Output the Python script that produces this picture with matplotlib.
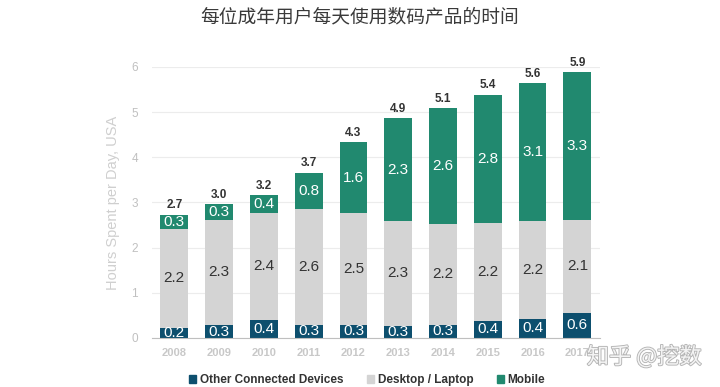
import matplotlib
matplotlib.use("Agg")
import matplotlib.pyplot as plt
from matplotlib.patches import Patch
import matplotlib.patheffects as pe

plt.rcParams['font.family'] = ['Liberation Sans', 'Noto Sans CJK SC', 'DejaVu Sans']

years = ['2008', '2009', '2010', '2011', '2012', '2013', '2014', '2015', '2016', '2017']
other = [0.22, 0.28, 0.40, 0.29, 0.29, 0.27, 0.29, 0.38, 0.42, 0.56]
desktop = [2.19, 2.34, 2.37, 2.56, 2.47, 2.32, 2.23, 2.16, 2.16, 2.06]
mobile = [0.31, 0.34, 0.39, 0.81, 1.57, 2.27, 2.56, 2.84, 3.06, 3.26]
series_names = ['Other Connected Devices', 'Desktop / Laptop', 'Mobile']
title = '每位成年用户每天使用数码产品的时间'
ylabel = 'Hours Spent per Day, USA'
watermark = '知乎 @挖数'

c_other = '#0d4f6e'
c_desk = '#d4d4d4'
c_mob = '#21896f'

fig = plt.figure(figsize=(7.2, 3.87), dpi=100)
ax = fig.add_axes([0.211, 0.127, 0.622, 0.700])

x = list(range(len(years)))
w = 0.62
ax.bar(x, other, w, color=c_other, zorder=3)
base2 = other
ax.bar(x, desktop, w, bottom=base2, color=c_desk, zorder=3)
base3 = [o + d for o, d in zip(other, desktop)]
ax.bar(x, mobile, w, bottom=base3, color=c_mob, zorder=3)

for i in x:
    ax.text(i, other[i] / 2, f"{other[i]:.1f}", ha='center', va='center',
            color='white', fontsize=11, zorder=4)
    ax.text(i, base2[i] + desktop[i] / 2, f"{desktop[i]:.1f}", ha='center', va='center',
            color='#333333', fontsize=11, zorder=4)
    ax.text(i, base3[i] + mobile[i] / 2, f"{mobile[i]:.1f}", ha='center', va='center',
            color='white', fontsize=11, zorder=4)
    tot = base3[i] + mobile[i]
    ax.text(i, tot + 0.08, f"{tot:.1f}", ha='center', va='bottom',
            color='#333333', fontsize=8.5, fontweight='bold', zorder=4)

ax.set_xlim(-0.5, 9.5)
ax.set_ylim(0, 6)
ax.set_yticks(range(7))
ax.set_xticks(x)
ax.set_xticklabels(years, color='#c8c8c8', fontsize=8, fontweight='bold')
ax.tick_params(axis='y', colors='#c8c8c8', labelsize=8.5, length=0, pad=10)
ax.tick_params(axis='x', length=0, pad=7)
for lab in ax.get_yticklabels():
    lab.set_color('#c0c0c0')
ax.grid(axis='y', color='#ececec', linewidth=0.8, zorder=0)
for s in ['top', 'right', 'left']:
    ax.spines[s].set_visible(False)
ax.spines['bottom'].set_color('#bfbfbf')
ax.spines['bottom'].set_zorder(5)
ax.set_ylabel(ylabel, color='#cfcfcf', fontsize=10.5, labelpad=8)

fig.text(0.5, 0.955, title, ha='center', va='center', fontsize=13.5, color='#3a3a3a')

handles = [Patch(color=c) for c in (c_other, c_desk, c_mob)]
leg = fig.legend(handles, series_names, loc='center', bbox_to_anchor=(0.51, 0.018),
                 ncol=3, frameon=False, handlelength=0.6, handleheight=0.6,
                 handletextpad=0.3, columnspacing=2.0, fontsize=8.5)
for t in leg.get_texts():
    t.set_fontweight('bold')
    t.set_color('#333333')

fig.text(0.815, 0.078, watermark, ha='left', va='center', fontsize=16,
         color='#f4f4f4', family=['Noto Sans CJK SC', 'DejaVu Sans'], zorder=10,
         path_effects=[pe.Stroke(linewidth=1.3, foreground='#b4b4b4'), pe.Normal()])

fig.savefig('out.png', dpi=100)
